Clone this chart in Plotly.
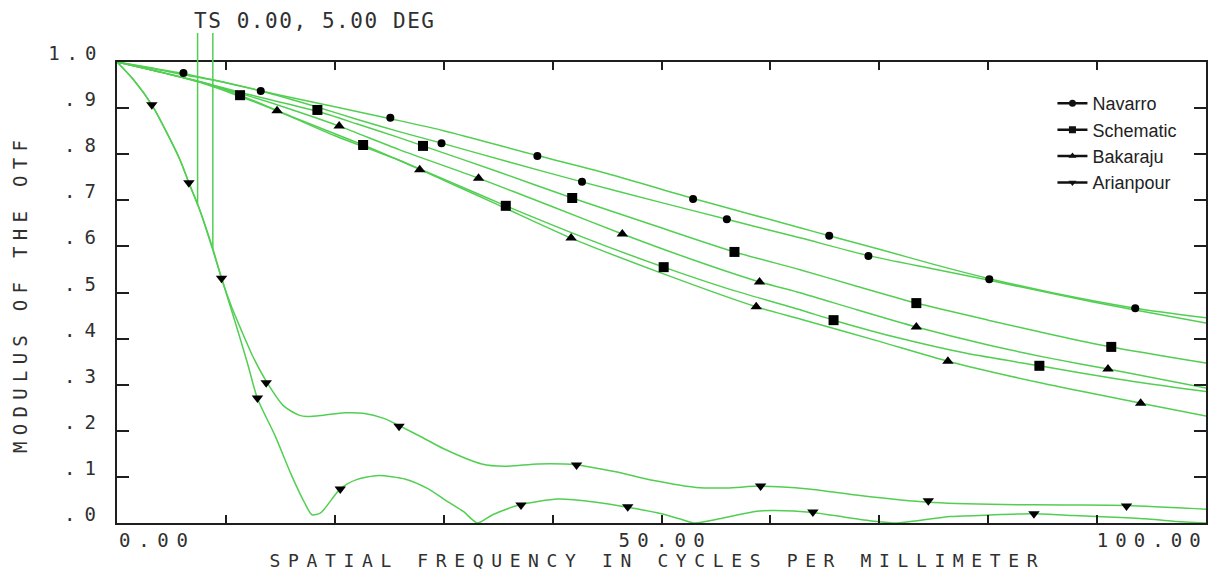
import json
import numpy as np
import plotly.graph_objects as go

# ---------------- data ----------------
# Navarro (tangential / sagittal)
nav_t_x = [0, 3, 6.1, 10, 15, 20, 25.1, 30, 38.6, 45, 52.9, 58, 62.8, 65.4, 70, 75, 80.1, 86, 93.5, 100]
nav_t_y = [1.0, 0.988, 0.975, 0.955, 0.928, 0.903, 0.877, 0.851, 0.797, 0.758, 0.704, 0.671, 0.640, 0.623, 0.594, 0.561, 0.530, 0.499, 0.466, 0.445]
nav_s_x = [0, 3, 6, 10, 13.2, 18, 22, 25.9, 29.8, 36, 42.7, 50, 56.0, 62.8, 69.0, 75, 80, 86, 93, 100]
nav_s_y = [1.0, 0.987, 0.973, 0.955, 0.937, 0.905, 0.876, 0.849, 0.824, 0.783, 0.740, 0.695, 0.659, 0.618, 0.580, 0.551, 0.527, 0.497, 0.464, 0.434]
# Schematic
sch_t_x = [0, 4, 8, 12, 18.4, 22, 25.9, 28.1, 35, 41.8, 49, 56.7, 62.8, 68, 73.4, 80, 86, 91.3, 100]
sch_t_y = [1.0, 0.978, 0.955, 0.930, 0.893, 0.866, 0.836, 0.818, 0.762, 0.705, 0.648, 0.588, 0.549, 0.513, 0.477, 0.440, 0.408, 0.382, 0.347]
sch_s_x = [0, 4, 8, 11.3, 16, 22.6, 25.9, 30, 35.7, 43, 50.2, 56, 62.8, 65.8, 72, 78, 84.7, 92, 100]
sch_s_y = [1.0, 0.978, 0.955, 0.928, 0.882, 0.820, 0.787, 0.746, 0.688, 0.618, 0.555, 0.509, 0.462, 0.440, 0.400, 0.368, 0.341, 0.312, 0.285]
# Bakaraju
bak_t_x = [0, 4, 8, 12, 16, 20.4, 25.9, 33.2, 40, 46.4, 53, 59.0, 62.8, 68, 73.4, 80, 86, 91.0, 100]
bak_t_y = [1.0, 0.978, 0.954, 0.927, 0.897, 0.861, 0.810, 0.748, 0.686, 0.627, 0.570, 0.523, 0.499, 0.462, 0.425, 0.386, 0.356, 0.334, 0.293]
bak_s_x = [0, 4, 8, 11, 14.7, 20, 25.9, 27.8, 35, 41.7, 50, 58.7, 62.8, 70, 76.3, 85, 94.0, 100]
bak_s_y = [1.0, 0.978, 0.953, 0.928, 0.894, 0.840, 0.787, 0.767, 0.690, 0.618, 0.542, 0.469, 0.442, 0.394, 0.351, 0.303, 0.260, 0.232]
# Arianpour
ari_t_x = [0, 1.5, 3.2, 4.5, 5.8, 6.6, 7.6, 8.8, 9.6, 10.5, 11.4, 12.5, 13.8, 15.3, 16.7, 17.5, 19, 20.9, 22.6,
           24.5, 26.0, 28, 30.0, 33.5, 35.6, 38.7, 42.2, 45.8, 49.3, 53.2, 56, 59.1, 63.5, 68.4, 74.5, 81.4, 87, 92.7, 100]
ari_t_y = [1.0, 0.962, 0.907, 0.850, 0.787, 0.738, 0.679, 0.595, 0.531, 0.470, 0.419, 0.360, 0.304, 0.254, 0.234, 0.231, 0.234, 0.239, 0.238,
           0.227, 0.210, 0.186, 0.161, 0.128, 0.123, 0.128, 0.126, 0.111, 0.092, 0.077, 0.076, 0.080, 0.074, 0.059, 0.045, 0.040, 0.039, 0.038, 0.030]
ari_s_x = [0, 1.5, 3.2, 4.5, 5.8, 6.6, 7.6, 8.8, 9.6, 10.8, 12.0, 12.9, 14.5, 16, 17.2, 17.9, 18.7, 20.5, 22, 24.0, 26.5,
           28.5, 30.0, 31.8, 33.1, 34.5, 37.1, 40.5, 44.0, 46.9, 50.0, 51.8, 53.0, 55.3, 58.6, 60.2, 63.9, 67.0, 69.5, 71.6,
           73.5, 76.5, 79.8, 84.2, 87.9, 91, 94.4, 97, 100]
ari_s_y = [1.0, 0.962, 0.907, 0.850, 0.787, 0.738, 0.679, 0.592, 0.531, 0.440, 0.345, 0.270, 0.190, 0.105, 0.045, 0.018, 0.022, 0.074, 0.094, 0.103, 0.095,
           0.075, 0.052, 0.025, 0.0, 0.018, 0.040, 0.052, 0.045, 0.034, 0.020, 0.008, 0.0, 0.009, 0.025, 0.027, 0.023, 0.012, 0.004, 0.0,
           0.005, 0.014, 0.017, 0.020, 0.016, 0.013, 0.009, 0.004, 0.0]

# marker positions on the curves
nav_mk_x = [6.1, 13.2, 25.1, 29.8, 38.6, 42.7, 52.9, 56.0, 65.4, 69.0, 80.1, 93.5]
nav_mk_y = [0.976, 0.937, 0.879, 0.824, 0.796, 0.740, 0.703, 0.659, 0.623, 0.579, 0.529, 0.466]
sch_mk_x = [11.3, 18.4, 22.6, 28.1, 35.7, 41.8, 50.2, 56.7, 65.8, 73.4, 84.7, 91.3]
sch_mk_y = [0.928, 0.896, 0.820, 0.818, 0.688, 0.705, 0.555, 0.588, 0.440, 0.477, 0.341, 0.382]
bak_mk_x = [14.7, 20.4, 27.8, 33.2, 41.7, 46.4, 58.7, 59.0, 73.4, 76.3, 91.0, 94.0]
bak_mk_y = [0.894, 0.861, 0.766, 0.748, 0.618, 0.627, 0.469, 0.523, 0.425, 0.351, 0.334, 0.260]
ari_mk_x = [3.2, 6.6, 9.6, 12.9, 13.7, 20.5, 25.9, 37.1, 42.2, 46.9, 59.1, 63.9, 74.5, 84.2, 92.7]
ari_mk_y = [0.907, 0.738, 0.531, 0.271, 0.304, 0.074, 0.210, 0.039, 0.126, 0.035, 0.080, 0.024, 0.048, 0.020, 0.037]

legend_names = ["Navarro", "Schematic", "Bakaraju", "Arianpour"]
legend_symbols = ["circle", "square", "triangle-up", "triangle-down"]

# field-marker frequencies (vertical lines under "TS")
ts_freqs = [7.4, 8.8]

x_tick_vals = [0, 50, 100]
x_tick_text = ["0.00", "50.00", "100.00"]
y_tick_vals = [1.0, 0.9, 0.8, 0.7, 0.6, 0.5, 0.4, 0.3, 0.2, 0.1, 0.0]
y_tick_text = ["1.0", ".9", ".8", ".7", ".6", ".5", ".4", ".3", ".2", ".1", ".0"]

title_text = "TS 0.00, 5.00 DEG"
x_title = "SPATIAL FREQUENCY IN CYCLES PER MILLIMETER"
y_title = "MODULUS OF THE OTF"

# ---------------- styling ----------------
GREEN = "#52cf52"
MONO = "DejaVu Sans Mono"
TXT = "#303030"
AX = "#1e1e1e"

fig = go.Figure()

curves = [(nav_t_x, nav_t_y), (nav_s_x, nav_s_y), (sch_t_x, sch_t_y), (sch_s_x, sch_s_y),
          (bak_t_x, bak_t_y), (bak_s_x, bak_s_y), (ari_t_x, ari_t_y), (ari_s_x, ari_s_y)]
for cx, cy in curves:
    fig.add_trace(go.Scatter(x=cx, y=cy, mode="lines", line=dict(color=GREEN, width=1.5, shape="spline", smoothing=0.7),
                             showlegend=False, hoverinfo="skip"))

markers = [(nav_mk_x, nav_mk_y, "circle", 8), (sch_mk_x, sch_mk_y, "square", 10),
           (bak_mk_x, bak_mk_y, "triangle-up", 10), (ari_mk_x, ari_mk_y, "triangle-down", 10)]
for mx, my, sym, sz in markers:
    fig.add_trace(go.Scatter(x=mx, y=my, mode="markers", marker=dict(symbol=sym, size=sz, color="black"),
                             showlegend=False, cliponaxis=False, hoverinfo="skip"))

for name, sym in zip(legend_names, legend_symbols):
    fig.add_trace(go.Scatter(x=[None], y=[None], mode="lines+markers", name=name,
                             line=dict(color="#111", width=2.5), marker=dict(symbol=sym, size=7, color="#111")))

# vertical field lines from the curve up to the label
ts_curve_y = [float(np.interp(f, ari_t_x, ari_t_y)) for f in ts_freqs]
for f, y0 in zip(ts_freqs, ts_curve_y):
    fig.add_shape(type="line", xref="x", yref="paper", x0=f, x1=f, y0=y0, y1=1.063,
                  line=dict(color=GREEN, width=1.5))

ann = []
# x tick labels
x_align = ["left", "center", "right"]
x_shift = [1, 0, -4]
for v, t, a, s in zip(x_tick_vals, x_tick_text, x_align, x_shift):
    ann.append(dict(x=v, y=0, xref="x", yref="paper", text=t, showarrow=False, xanchor=a, align=a,
                    yanchor="middle", yshift=-17, xshift=s, borderpad=0,
                    font=dict(family=MONO, size=19, color=TXT)))
# y tick labels
for v, t in zip(y_tick_vals, y_tick_text):
    ann.append(dict(x=0, y=v, xref="paper", yref="y", text=t, showarrow=False, xanchor="right", align="right",
                    yanchor="middle", xshift=-20, yshift=9, borderpad=0,
                    font=dict(family=MONO, size=19, color=TXT)))
# axis titles
ann.append(dict(x=0.5, y=0, xref="paper", yref="paper", text=x_title, showarrow=False, xanchor="center",
                yanchor="middle", yshift=-37, xshift=-8, borderpad=0, font=dict(family=MONO, size=18, color=TXT)))
ann.append(dict(x=0, y=0.5, xref="paper", yref="paper", text=y_title, showarrow=False, xanchor="center",
                yanchor="middle", xshift=-98, yshift=-4, textangle=-90, borderpad=0,
                font=dict(family=MONO, size=19, color=TXT)))
ann.append(dict(x=ts_freqs[0], y=1, xref="x", yref="paper", text=title_text, showarrow=False, xanchor="left",
                align="left", yanchor="middle", yshift=41, xshift=-5, borderpad=0,
                font=dict(family=MONO, size=21, color=TXT)))

fig.update_layout(
    width=1209, height=572,
    margin=dict(l=117, r=1, t=62, b=49),
    paper_bgcolor="white", plot_bgcolor="white",
    annotations=ann,
    showlegend=True,
    legend=dict(x=0.859, y=0.95, xanchor="left", yanchor="top", bgcolor="rgba(0,0,0,0)",
                font=dict(family="Liberation Sans, Arial", size=18, color="#222"),
                itemwidth=30, tracegroupgap=0),
    xaxis=dict(range=[0, 100], showgrid=False, zeroline=False, showline=True, linecolor=AX, linewidth=1.5,
               mirror="ticks", ticks="inside", ticklen=8, tickwidth=1.5, tickcolor=AX,
               tickvals=list(range(0, 101, 10)), showticklabels=False),
    yaxis=dict(range=[0, 1], showgrid=False, zeroline=False, showline=True, linecolor=AX, linewidth=1.5,
               mirror="ticks", ticks="inside", ticklen=12, tickwidth=1.5, tickcolor=AX,
               tickvals=y_tick_vals, showticklabels=False),
)

# widen the monospace labels to the plotter's character pitch
pitch = {}
for t in x_tick_text:
    pitch[t] = round(len(t) * 17.3)
for t in y_tick_text:
    pitch[t] = round(len(t) * 16.0)
pitch[x_title] = 768
pitch[y_title] = 313
pitch[title_text] = 240

js = """
document.body.style.margin = '0';
(function(){
  var gd = document.getElementById('{plot_id}');
  var widths = %s;
  function fix(){
    var ts = gd.querySelectorAll('text.annotation-text');
    for (var i = 0; i < ts.length; i++) {
      var t = ts[i];
      var w = widths[t.textContent];
      if (w) { t.setAttribute('textLength', w); t.setAttribute('lengthAdjust', 'spacing'); }
    }
  }
  fix();
  setTimeout(fix, 30);
  if (gd.on) { gd.on('plotly_afterplot', fix); }
})();
""" % json.dumps(pitch)

fig.write_html("out.html", post_script=js, config={"displayModeBar": False})
